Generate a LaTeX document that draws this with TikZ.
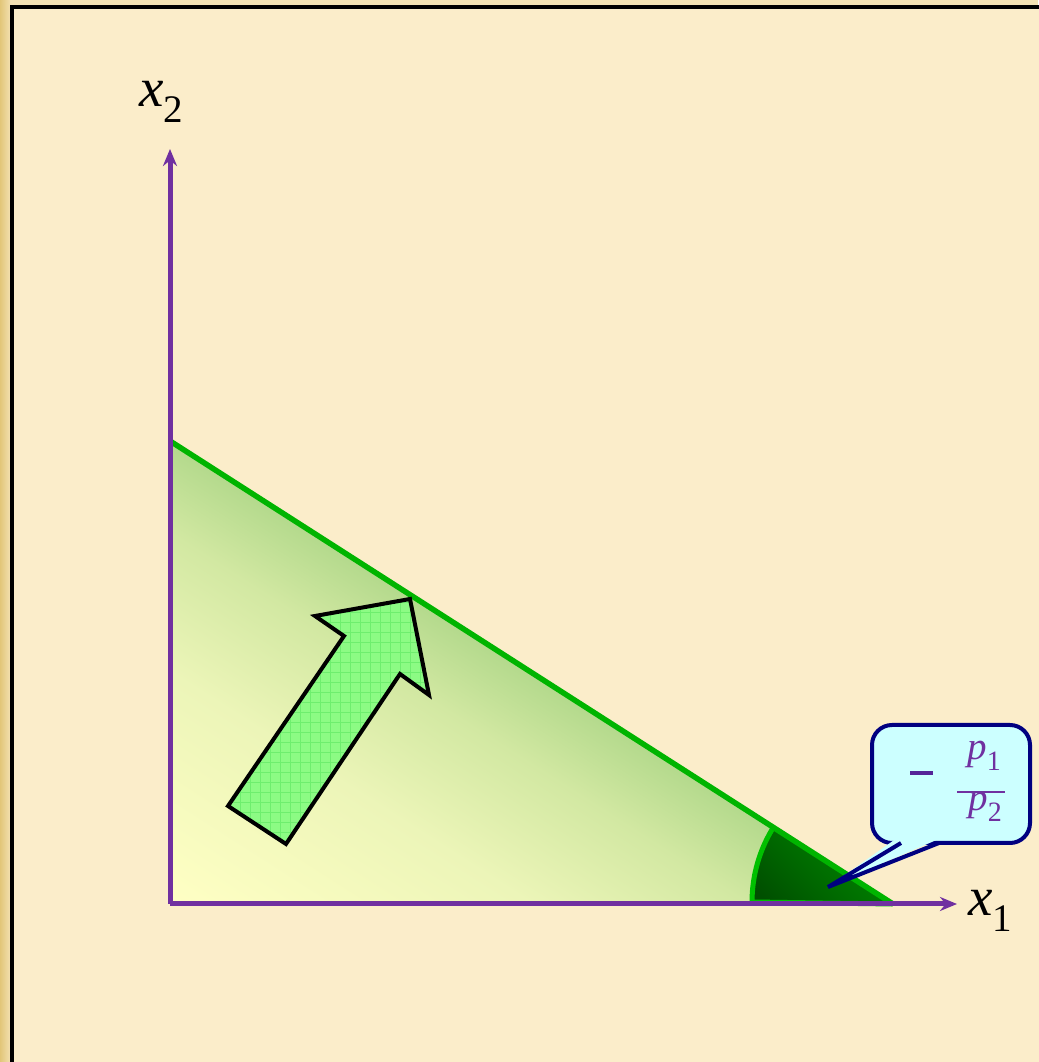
\documentclass[tikz,border=0pt]{standalone}
\usepackage{fontspec}
\setmainfont{Liberation Serif}
\usetikzlibrary{arrows.meta,patterns.meta}
\definecolor{bgin}{HTML}{FBEDCA}
\definecolor{bgout}{HTML}{F4E2B4}
\definecolor{goldl}{HTML}{E2C679}
\definecolor{axisc}{HTML}{7030A0}
\definecolor{linec}{HTML}{00B400}
\definecolor{shadeg}{HTML}{B3D98C}
\definecolor{shadem}{HTML}{D2E8A2}
\definecolor{shadel}{HTML}{ECF5B8}
\definecolor{shadey}{HTML}{FFFFC4}
\definecolor{arrowg}{HTML}{8CFB84}
\definecolor{gridg}{HTML}{6EEE6E}
\definecolor{callfill}{HTML}{CCFFFF}
\definecolor{callline}{HTML}{000080}
\definecolor{wedged}{HTML}{004F00}
\definecolor{wedgel}{HTML}{009000}
\definecolor{wedgeb}{HTML}{00C000}
\pgfdeclareverticalshading{budgetshade}{100bp}{color(0bp)=(shadey); color(25bp)=(shadey); color(50bp)=(shadel); color(65bp)=(shadem); color(75bp)=(shadeg); color(100bp)=(shadeg)}
\tikzset{
  axisline/.style={draw=axisc, line width=5pt, -{Stealth[length=17pt,width=14pt]}},
  budget/.style={draw=linec, line width=5.5pt},
  lbl/.style={font=\fontsize{55}{60}\selectfont\itshape, inner sep=0pt},
  plbl/.style={font=\fontsize{39}{42}\selectfont\itshape, text=axisc, inner sep=0pt},
}
\newcommand{\subs}[3]{#1\raisebox{-0.28em}{\upshape\fontsize{#2}{#2}\selectfont #3}}
\begin{document}
\begin{tikzpicture}[x=1pt,y=1pt]
\useasboundingbox (0,0) rectangle (1038,1062);
% outer frame
\fill[bgout] (0,0) rectangle (1038,1062);
\shade[left color=goldl, right color=bgout!90!goldl] (0,0) rectangle (10,1062);
\fill[bgin] (13,-5) rectangle (1045,1053);
\draw[black, line width=4pt] (11.5,-5) -- (11.5,1054.5) -- (1045,1054.5);
% coordinates
\coordinate (O) at (170,158);
\coordinate (XE) at (957,158);
\coordinate (YE) at (170,913);
\coordinate (A) at (170,621);
\coordinate (B) at (893,158);
% shaded feasible set
\begin{scope}
  \clip (O) -- (A) -- (B) -- cycle;
  \begin{scope}[transform canvas={shift={(170pt,158pt)}, rotate=-32.63}]
    \shade[shading=budgetshade] (-700,0) rectangle (900,390);
  \end{scope}
\end{scope}
% angle wedge
\begin{scope}
  \clip (B) -- (750,158) arc[start angle=180, end angle=147.37, radius=143] -- cycle;
  \shade[top color=wedgel, bottom color=wedged, shading angle=-45] (740,150) rectangle (900,245);
\end{scope}
\draw[wedgeb, line width=5pt, line join=round] (B) -- (752,160) arc[start angle=180, end angle=147.37, radius=141];
% budget line
\draw[budget] (A) -- (B);
% axes
\draw[axisline] (O) -- (XE);
\draw[axisline] (O) -- (YE);
% labels
\node[lbl] (x2) at (161,960) {\subs{x}{39}{2}};
\node[lbl] (x1) at (990,151) {\subs{x}{39}{1}};
% block arrow
\coordinate (a1) at (228,256);
\coordinate (a2) at (286,218);
\coordinate (a3) at (400,388);
\coordinate (a4) at (429,367);
\coordinate (a5) at (410,463);
\coordinate (a6) at (315,446);
\coordinate (a7) at (344,426);
\fill[arrowg] (a1) -- (a2) -- (a3) -- (a4) -- (a5) -- (a6) -- (a7) -- cycle;
\fill[pattern={Lines[distance=10pt,angle=0,line width=0.8pt]}, pattern color=gridg]
  (a1) -- (a2) -- (a3) -- (a4) -- (a5) -- (a6) -- (a7) -- cycle;
\fill[pattern={Lines[distance=10pt,angle=90,line width=0.8pt]}, pattern color=gridg]
  (a1) -- (a2) -- (a3) -- (a4) -- (a5) -- (a6) -- (a7) -- cycle;
\draw[black, line width=4pt, line join=miter] (a1) -- (a2) -- (a3) -- (a4) -- (a5) -- (a6) -- (a7) -- cycle;
% callout
\coordinate (tip) at (828,175);
\draw[fill=callfill, draw=callline, line width=4pt, rounded corners=20pt] (872,219) rectangle (1030,337);
\fill[callfill] (897,224) -- (tip) -- (941,224) -- cycle;
\draw[callline, line width=4pt, line join=miter] (901,219) -- (tip) -- (939,219);
\draw[draw=axisc!75!callline, line width=3.5pt] (910,289) -- (933,289);
\node[plbl] (p1) at (984,306) {\subs{p}{28}{1}};
\node[plbl] (p2) at (985,255) {\subs{p}{28}{2}};
\draw[axisc, line width=2.5pt] (957,270) -- (1005,270);
\end{tikzpicture}
\end{document}
